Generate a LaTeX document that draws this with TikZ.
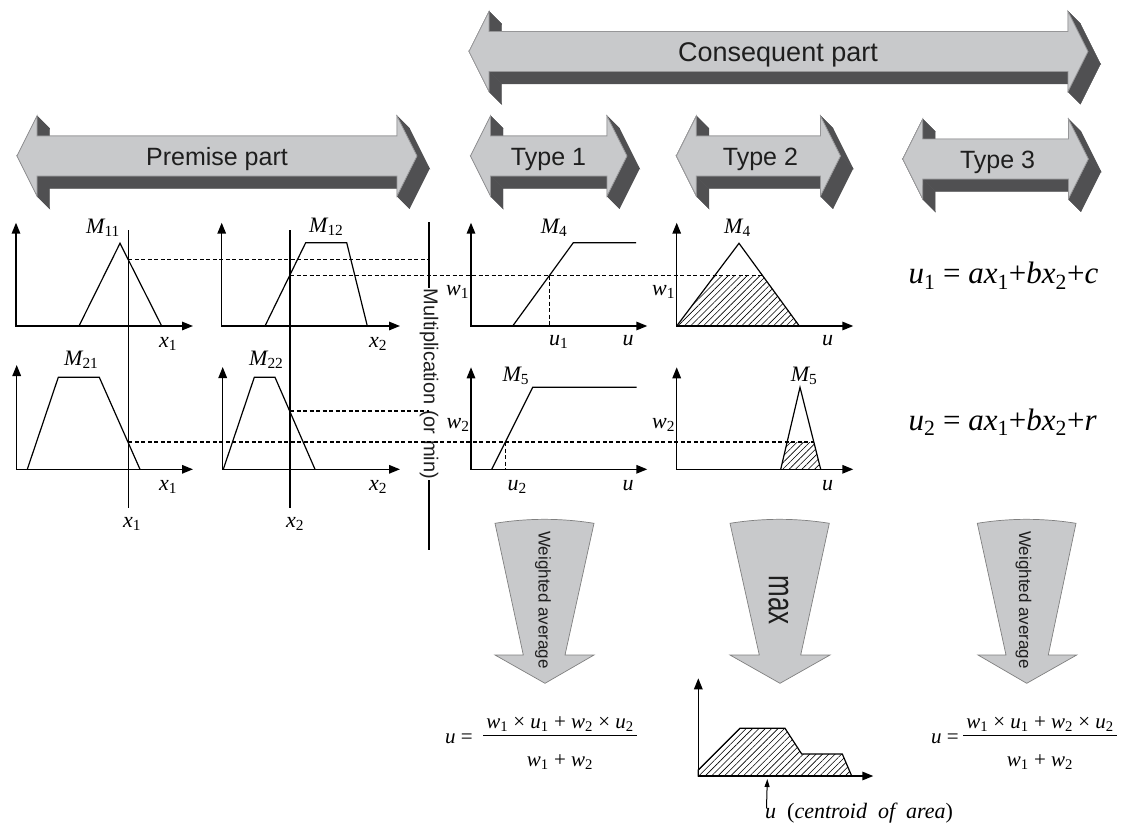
\documentclass[tikz,border=0pt]{standalone}
\usepackage{fontspec}
\setmainfont{Liberation Serif}
\newfontfamily\asans{Liberation Sans}
\usetikzlibrary{arrows.meta,patterns.meta}
\definecolor{lgray}{RGB}{200,201,203}
\definecolor{dgray}{RGB}{80,80,82}
\definecolor{egray}{RGB}{150,150,152}
\definecolor{txt}{RGB}{30,30,30}
\newcommand\sbs[1]{\textsubscript{\upshape #1}}
\newcommand\fsz[1]{\fontsize{#1}{#1}\selectfont}
\newcommand\tdarrow[4]{% xL, xR, yc, name
  \coordinate (#4p1) at (#1,#3);
  \coordinate (#4p2) at ({#1+20},{#3-40});
  \coordinate (#4p3) at ({#1+20},{#3-20});
  \coordinate (#4p4) at ({#2-20},{#3-20});
  \coordinate (#4p5) at ({#2-20},{#3-40});
  \coordinate (#4p6) at (#2,#3);
  \coordinate (#4p7) at ({#2-20},{#3+40});
  \coordinate (#4p8) at ({#2-20},{#3+20});
  \coordinate (#4p9) at ({#1+20},{#3+20});
  \coordinate (#4p10) at ({#1+20},{#3+40});
  \foreach \i/\j in {1/2,2/3,3/4,4/5,5/6,6/7,7/8,8/9,9/10,10/1}
    \filldraw[extr] (#4p\i) -- (#4p\j) -- ([shift={(12.5,12.5)}]#4p\j) -- ([shift={(12.5,12.5)}]#4p\i) -- cycle;
  \filldraw[front] (#4p1) -- (#4p2) -- (#4p3) -- (#4p4) -- (#4p5) -- (#4p6) -- (#4p7) -- (#4p8) -- (#4p9) -- (#4p10) -- cycle;
}
\newcommand\chartax[4]{\draw[axis] (#1,#3) -- (#1,#2) -- (#4,#2);}
\begin{document}
\begin{tikzpicture}[x=1pt,y=-1pt,
  extr/.style={fill=dgray, draw=dgray, line width=0.4pt},
  front/.style={fill=lgray, draw=egray, line width=0.8pt, line join=miter},
  atext/.style={font=\asans\fsz{25}, text=txt, inner sep=0pt},
  axis/.style={line width=1.5pt, {Triangle[length=11pt,width=8.5pt]}-{Triangle[length=11pt,width=8.5pt]}},
  mfl/.style={line width=1.2pt, line join=miter},
  dln/.style={dash pattern=on 4pt off 2.5pt, line width=1.3pt},
  hatch/.style={pattern={Lines[angle=45,distance=4.5pt,line width=0.6pt]}},
  lab/.style={font=\fsz{22}\itshape, inner sep=0pt},
  flab/.style={font=\fsz{21}\itshape, inner sep=0pt},
  eqn/.style={font=\fsz{31}\itshape, inner sep=0pt},
  darrow/.style={fill=lgray, draw=gray, line width=0.7pt},
  rtext/.style={font=\asans\fsz{17}, text=txt, rotate=-90, inner sep=0pt}]
\useasboundingbox (0,0) rectangle (1121,832);
\fill[white] (0,0) rectangle (1121,832);

% ---------- 3D double arrows ----------
\tdarrow{469}{1088}{51.5}{cons}
\node[atext, font=\asans\fsz{27}, anchor=base] (conslab) at (778,61.7) {Consequent part};
\tdarrow{17}{417}{156}{prem}
\node[atext, anchor=base] (premlab) at (217,165) {Premise part};
\tdarrow{470.5}{627}{156}{ta}
\node[atext, anchor=base] (talab) at (548.5,165) {Type 1};
\tdarrow{676.3}{840.5}{156}{tb}
\node[atext, anchor=base] (tblab) at (760.4,165) {Type 2};
\tdarrow{902.7}{1088.4}{159}{tc}
\node[atext, anchor=base] (tclab) at (997.6,168) {Type 3};

% ---------- hatched areas ----------
\fill[hatch] (676.7,326) -- (714.7,275.5) -- (762.5,275.5) -- (799.3,326) -- cycle;
\fill[hatch] (780.7,469.3) -- (787.1,442) -- (813.8,442) -- (820.7,469.3) -- cycle;
\filldraw[hatch, mfl] (698.3,776) -- (698.3,770) -- (740,728.3) -- (785,728.3) -- (801.7,754) -- (842.3,754) -- (851.7,776) -- cycle;

% ---------- membership functions ----------
\draw[mfl] (79,326) -- (120,243.3) -- (161.7,326);
\draw[mfl] (265,326) -- (305.7,242.7) -- (346.7,242.7) -- (367.3,326);
\draw[mfl] (27.3,469.3) -- (58.3,377.3) -- (99.3,377.3) -- (140,469.3);
\draw[mfl] (223.3,469.3) -- (254.3,377.3) -- (275,377.3) -- (315,469.3);
\draw[mfl] (512.7,326) -- (573.3,242.7) -- (636,242.7);
\draw[mfl] (676.7,326) -- (739,243.3) -- (799.3,326);
\draw[mfl] (491.7,469.3) -- (532.7,387.3) -- (636.7,387.3);
\draw[mfl] (780.7,469.3) -- (800,387.3) -- (820.7,469.3);

% ---------- axes ----------
\chartax{16}{326}{222.7}{193}
\chartax{221.7}{326}{222.7}{400}
\chartax{16.7}{469.3}{365}{193}
\chartax{222.7}{469.3}{367}{400}
\chartax{471}{326}{222.7}{647.3}
\chartax{676.7}{326}{222.7}{853.3}
\chartax{471}{469.3}{367.3}{647.3}
\chartax{676.7}{469.3}{367.3}{853.3}
\chartax{698.3}{776}{678.3}{873.3}

% ---------- input lines ----------
\coordinate (xa1) at (128.3,230); \coordinate (xa2) at (128.3,508);
\coordinate (xb1) at (290,230);   \coordinate (xb2) at (290,508);
\draw[line width=1.2pt] (xa1) -- (xa2);
\draw[line width=1.2pt] (xb1) -- (xb2);

% ---------- multiplication line ----------
\coordinate (mt) at (429,222); \coordinate (mb) at (429,550);
\draw[line width=1.3pt] (mt) -- (mb);
\node[rtext, font=\asans\fsz{20}, fill=white, inner xsep=1pt] (mult) at (429,384) {Multiplication (or min)};

% ---------- dashed lines ----------
\coordinate (d1a) at (128.3,259.8); \coordinate (d1b) at (429,259.8);
\coordinate (d2a) at (290,275.5);   \coordinate (d2b) at (762.5,275.5);
\coordinate (d3a) at (290,411);     \coordinate (d3b) at (429,411);
\coordinate (d4a) at (128.3,442);   \coordinate (d4b) at (813.8,442);
\coordinate (d5a) at (549.4,275.5); \coordinate (d5b) at (549.4,326);
\coordinate (d6a) at (505.4,442);   \coordinate (d6b) at (505.4,469.3);
\draw[dln] (d1a) -- (d1b);
\draw[dln] (d2a) -- (d2b);
\draw[dln] (d3a) -- (d3b);
\draw[dln] (d4a) -- (d4b);
\draw[dln] (d5a) -- (d5b);
\draw[dln] (d6a) -- (d6b);

% ---------- chart labels ----------
\node[lab, anchor=base west] (m11) at (86,233.3) {M\sbs{11}};
\node[lab, anchor=base west] (m12) at (309,232) {M\sbs{12}};
\node[lab, anchor=base west] (m21) at (64,365) {M\sbs{21}};
\node[lab, anchor=base west] (m22) at (249,365) {M\sbs{22}};
\node[lab, anchor=base west] (m4a) at (540.7,233.3) {M\sbs{4}};
\node[lab, anchor=base west] (m4b) at (724,233.3) {M\sbs{4}};
\node[lab, anchor=base west] (m5a) at (502.3,381.7) {M\sbs{5}};
\node[lab, anchor=base west] (m5b) at (790.7,381.7) {M\sbs{5}};
\node[lab, anchor=base west] (xl1) at (159,347) {x\sbs{1}};
\node[lab, anchor=base west] (xl2) at (369,347) {x\sbs{2}};
\node[lab, anchor=base west] (xl3) at (159,490.3) {x\sbs{1}};
\node[lab, anchor=base west] (xl4) at (369,490.3) {x\sbs{2}};
\node[lab, anchor=base west] (xl5) at (123,527) {x\sbs{1}};
\node[lab, anchor=base west] (xl6) at (286,527) {x\sbs{2}};
\node[lab, anchor=base west] (w1a) at (446,295) {w\sbs{1}};
\node[lab, anchor=base west] (w1b) at (652,295) {w\sbs{1}};
\node[lab, anchor=base west] (w2a) at (446.5,428.3) {w\sbs{2}};
\node[lab, anchor=base west] (w2b) at (652,428.3) {w\sbs{2}};
\node[lab, anchor=base west] (u1) at (549,345.7) {u\sbs{1}};
\node[lab, anchor=base west] (ua) at (622.3,345.7) {u};
\node[lab, anchor=base west] (ub) at (822,345.7) {u};
\node[lab, anchor=base west] (u2) at (507.3,490) {u\sbs{2}};
\node[lab, anchor=base west] (uc) at (622.3,490) {u};
\node[lab, anchor=base west] (ud) at (822,490) {u};

% ---------- type 3 equations ----------
\node[eqn, anchor=base west] (eq1) at (908.3,283.3) {u\sbs{1}\upshape{} = \itshape ax\sbs{1}\upshape{+}\itshape bx\sbs{2}\upshape{+}\itshape c};
\node[eqn, anchor=base west] (eq2) at (908.3,430) {u\sbs{2}\upshape{} = \itshape ax\sbs{1}\upshape{+}\itshape bx\sbs{2}\upshape{+}\itshape r};

% ---------- down arrows ----------
\draw[darrow] (495,523.3) .. controls (528,518) and (561,518) .. (594,523.3) -- (565,655) -- (594,655) -- (545,683.3) -- (495,655) -- (523.3,655) -- cycle;
\node[rtext] (wa1) at (543,600) {Weighted average};
\draw[darrow] (730,523.3) .. controls (763,518) and (796,518) .. (829.3,523.3) -- (800.7,655) -- (830,655) -- (780,683.3) -- (730,655) -- (759.3,655) -- cycle;
\node[rotate=-90, inner sep=0pt, text=txt] (maxlab) at (778.5,600) {\scalebox{1}[1.4]{\asans\fsz{26}max}};
\draw[darrow] (977.3,523.3) .. controls (1010,518) and (1043,518) .. (1076,523.3) -- (1048.3,655) -- (1076.7,655) -- (1026.7,683.3) -- (978,655) -- (1006,655) -- cycle;
\node[rtext] (wa2) at (1023.5,600) {Weighted average};

% ---------- formulas ----------
\node[flab, anchor=base west] (fu1) at (445,743) {u \upshape =};
\node[flab, anchor=base] (fn1) at (560,728.3) {w\sbs{1} \upshape× \itshape u\sbs{1} \upshape+ \itshape w\sbs{2} \upshape× \itshape u\sbs{2}};
\node[flab, anchor=base] (fd1) at (560,766.7) {w\sbs{1} \upshape+ \itshape w\sbs{2}};
\coordinate (b1a) at (483.3,735.7); \coordinate (b1b) at (636.7,735.7);
\draw[line width=1.2pt] (b1a) -- (b1b);
\node[flab, anchor=base west] (fu2) at (931,743) {u \upshape =};
\node[flab, anchor=base] (fn2) at (1040,728.3) {w\sbs{1} \upshape× \itshape u\sbs{1} \upshape+ \itshape w\sbs{2} \upshape× \itshape u\sbs{2}};
\node[flab, anchor=base] (fd2) at (1040,766.7) {w\sbs{1} \upshape+ \itshape w\sbs{2}};
\coordinate (b2a) at (963.3,735.7); \coordinate (b2b) at (1116.7,735.7);
\draw[line width=1.2pt] (b2a) -- (b2b);

% ---------- centroid marker ----------
\coordinate (cst) at (766.5,808); \coordinate (ctip) at (767.3,779);
\draw[line width=1pt, -{Triangle[length=8pt,width=5pt]}] (cst) -- (ctip);
\node[flab, font=\fsz{22}\itshape, anchor=base west] (cen) at (765,818) {u\ \ \upshape(\itshape centroid\ \ of\ \ area\upshape)};
\end{tikzpicture}
\end{document}
